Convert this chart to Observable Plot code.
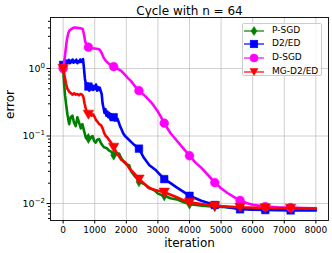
<!DOCTYPE html>
<html>
<head>
<meta charset="utf-8">
<script src="https://cdn.jsdelivr.net/npm/d3@7"></script>
<script src="https://cdn.jsdelivr.net/npm/@observablehq/plot@0.6"></script>
<style>
  html, body { margin: 0; padding: 0; background: #fff; }
  #wrap { position: relative; width: 332px; height: 253px; font-family: "DejaVu Sans", sans-serif; }
  #legend { position: absolute; left: 242px; top: 23px; width: 80px; height: 53px; box-sizing: border-box;
    background: rgba(255,255,255,0.8); border: 1px solid #cccccc; border-radius: 2px; }
  #legend .row { position: absolute; left: 0; height: 12px; width: 80px; }
  #legend svg { position: absolute; left: 1px; top: 0; }
  #legend span { position: absolute; left: 29px; top: -1px; font-size: 9px; line-height: 13px; color: #000; white-space: nowrap; }
</style>
</head>
<body>
<div id="wrap"></div>
<script>
// ---- data ----
const seriesNames = ["P-SGD", "D2/ED", "D-SGD", "MG-D2/ED"];
const seriesColors = ["#008000", "#0000ff", "#ff00ff", "#ff0000"];

const iterPSGD = [0,30,60,100,135,190,240,295,340,400,450,500,560,610,660,720,770,800,820,880,930,980,1030,1080,1140,1200,1250,1300,1380,1450,1530,1600,1660,1700,1770,1850,1930,2000,2090,2150,2250,2320,2400,2500,2600,2700,2800,2900,3000,3100,3200,3400,3600,3800,4000,4400,4800,5200,5600,6400,7200,8000];
const errPSGD = [1.0,0.6,0.4,0.28,0.21,0.15,0.19,0.2,0.16,0.14,0.19,0.16,0.13,0.15,0.12,0.094,0.1,0.092,0.089,0.095,0.1,0.085,0.08,0.088,0.09,0.078,0.072,0.068,0.066,0.061,0.058,0.052,0.055,0.053,0.055,0.046,0.041,0.038,0.037,0.03,0.026,0.024,0.021,0.02,0.019,0.017,0.0165,0.0155,0.014,0.0135,0.013,0.012,0.0115,0.0105,0.0098,0.0093,0.009,0.0088,0.0086,0.0085,0.0085,0.0084];

const iterD2ED = [0,30,60,90,120,150,180,210,240,270,300,330,360,390,420,450,480,510,540,570,600,630,660,690,720,750,780,800,830,860,890,920,950,980,1010,1040,1070,1100,1130,1160,1190,1220,1250,1280,1310,1340,1370,1400,1430,1460,1490,1520,1550,1580,1600,1630,1660,1690,1720,1760,1800,1850,1900,1960,2050,2150,2250,2400,2550,2730,2940,3200,3400,3580,3800,4000,4370,4800,5200,5600,6000,6400,7200,8000];
const errD2ED = [1.13,1.25,1.35,1.2,1.3,1.22,1.34,1.2,1.3,1.24,1.36,1.22,1.3,1.25,1.35,1.2,1.28,1.24,1.36,1.25,1.32,1.38,1.0,0.7,0.6,0.52,0.6,0.54,0.47,0.58,0.5,0.56,0.48,0.55,0.5,0.58,0.47,0.53,0.48,0.52,0.46,0.42,0.3,0.26,0.22,0.25,0.2,0.23,0.19,0.22,0.18,0.21,0.19,0.2,0.19,0.17,0.2,0.17,0.18,0.16,0.14,0.125,0.11,0.1,0.091,0.082,0.074,0.065,0.048,0.037,0.031,0.023,0.02,0.0175,0.015,0.013,0.011,0.0095,0.0088,0.0082,0.0081,0.008,0.0079,0.0079];

const iterDSGD = [0,40,80,120,160,200,260,350,450,550,620,660,700,750,800,900,1000,1100,1150,1220,1280,1350,1450,1550,1600,1700,1830,1930,2050,2150,2310,2400,2600,2800,3000,3100,3200,3400,3600,3800,4000,4200,4370,4600,4800,5000,5200,5400,5600,5800,6000,6400,6800,7200,7600,8000];
const errDSGD = [1.0,1.3,1.9,2.7,3.3,3.65,3.85,4.05,4.0,3.95,3.85,3.2,2.5,2.2,2.07,2.0,1.98,1.95,1.92,1.7,1.45,1.3,1.17,1.1,1.07,1.0,0.93,0.83,0.72,0.65,0.52,0.47,0.39,0.31,0.23,0.19,0.155,0.11,0.085,0.066,0.051,0.04,0.034,0.026,0.0204,0.0168,0.0143,0.0125,0.0111,0.0102,0.0096,0.009,0.0088,0.0087,0.0086,0.0085];

const iterMG = [0,40,90,135,200,250,300,350,400,450,500,550,600,640,680,720,770,800,850,900,950,1000,1050,1100,1140,1200,1250,1300,1350,1400,1450,1500,1550,1600,1700,1830,1980,2100,2250,2400,2600,2780,3000,3200,3400,3580,3800,4000,4370,4800,5200,5600,6400,7200,8000];
const errMG = [1.0,0.8,0.6,0.5,0.45,0.43,0.41,0.43,0.41,0.42,0.4,0.42,0.41,0.38,0.3,0.25,0.22,0.21,0.22,0.2,0.21,0.19,0.17,0.16,0.15,0.145,0.13,0.11,0.1,0.095,0.088,0.082,0.075,0.068,0.056,0.045,0.04,0.033,0.028,0.023,0.019,0.0165,0.0155,0.0147,0.0135,0.0125,0.0112,0.0104,0.0098,0.0092,0.009,0.0088,0.0086,0.0085,0.0084];

const xTicks = [0,1000,2000,3000,4000,5000,6000,7000,8000];
const yTicks = [0.01, 0.1, 1];
const markEvery = 800;
const titleText = "Cycle with n = 64";
const xLabel = "iteration";
const yLabel = "error";

// ---- build ----
const iters = [iterPSGD, iterD2ED, iterDSGD, iterMG];
const errs = [errPSGD, errD2ED, errDSGD, errMG];
const tables = iters.map((xs, k) => {
  const n = Math.min(xs.length, errs[k].length);
  return d3.range(n).map(i => ({x: xs[i], y: errs[k][i]}));
});

const triDown = {draw(ctx, size) {
  const s = Math.sqrt(size * 4 / Math.sqrt(3));
  const h = s * Math.sqrt(3) / 2;
  ctx.moveTo(-s / 2, -h / 2.2);
  ctx.lineTo(s / 2, -h / 2.2);
  ctx.lineTo(0, h - h / 2.2);
  ctx.closePath();
}};
const symbols = ["diamond", "square", "circle", triDown];
const radii = [3.1, 4.3, 4.4, 3.9];

const minorTicks = [];
for (const e of [-3, -2, -1, 0]) for (let m = 2; m <= 9; m++) {
  const v = m * Math.pow(10, e);
  if (v > 0.0056 && v < 5.7) minorTicks.push(v);
}
const fmtPow = v => "10^" + Math.round(Math.log10(v));

const marks = [
  Plot.gridX(xTicks, {stroke: "#b0b0b0", strokeOpacity: 0.6, strokeWidth: 1}),
  Plot.gridY(yTicks, {stroke: "#b0b0b0", strokeOpacity: 0.6, strokeWidth: 1}),
];
tables.forEach((t, k) => {
  marks.push(Plot.line(t, {x: "x", y: "y", stroke: seriesColors[k], strokeWidth: 2.6, strokeLinejoin: "round"}));
  marks.push(Plot.dot(t.filter(d => d.x % markEvery === 0 && d.x < 8000), {
    x: "x", y: "y", symbol: () => symbols[k], r: radii[k], fill: seriesColors[k], stroke: seriesColors[k], strokeWidth: 0.5
  }));
});
marks.push(
  Plot.frame({stroke: "#000", strokeWidth: 0.9}),
  Plot.axisX({ticks: xTicks, tickSize: 3.5, tickPadding: 2.5, fontSize: 9, label: null, tickFormat: d => String(d)}),
  Plot.axisY({ticks: yTicks, tickSize: 3.5, tickPadding: 2, fontSize: 9.5, label: null, tickFormat: fmtPow}),
  Plot.axisY({ticks: minorTicks, tickSize: 2, tickFormat: () => "", label: null}),
  Plot.text([titleText], {frameAnchor: "top", lineAnchor: "bottom", dy: -3, fontSize: 12, fill: "#000"}),
  Plot.text([xLabel], {frameAnchor: "bottom", lineAnchor: "bottom", dy: 26, fontSize: 12, fill: "#000"}),
  Plot.text([yLabel], {frameAnchor: "left", rotate: -90, dx: -40, fontSize: 12, fill: "#000"})
);

const chart = Plot.plot({
  width: 332,
  height: 253,
  marginLeft: 50,
  marginRight: 4,
  marginTop: 17,
  marginBottom: 33,
  style: {fontFamily: "DejaVu Sans, sans-serif", background: "#fff", color: "#000"},
  x: {domain: [-400, 8400]},
  y: {type: "log", domain: [0.0056, 5.7]},
  symbol: {type: "identity"},
  marks
});
// exponent formatting for log tick labels
chart.querySelectorAll("text").forEach(t => {
  const s = t.textContent;
  const m = /^10\^(-?\d+)$/.exec(s);
  if (!m) return;
  const exp = m[1].replace("-", "\u2212");
  while (t.firstChild) t.removeChild(t.firstChild);
  const ns = "http://www.w3.org/2000/svg";
  const a = document.createElementNS(ns, "tspan");
  a.textContent = "10";
  const b = document.createElementNS(ns, "tspan");
  b.textContent = exp;
  b.setAttribute("font-size", "7");
  b.setAttribute("dy", "-4");
  t.appendChild(a);
  t.appendChild(b);
});
const wrap = document.getElementById("wrap");
wrap.appendChild(chart);

// legend
const legend = document.createElement("div");
legend.id = "legend";
const symPaths = [
  '<path d="M10,1.5 L13,6 L10,10.5 L7,6 Z"/>',
  '<rect x="6.2" y="2.2" width="7.6" height="7.6"/>',
  '<circle cx="10" cy="6" r="4"/>',
  '<path d="M6,2.5 L14,2.5 L10,9.5 Z"/>'
];
const rowTops = [1, 14.3, 27.7, 41.7];
seriesNames.forEach((name, k) => {
  const row = document.createElement("div");
  row.className = "row";
  row.style.top = rowTops[k] + "px";
  row.innerHTML = `<svg width="24" height="12" viewBox="0 0 24 12">
      <line x1="0" y1="6" x2="20" y2="6" stroke="${seriesColors[k]}" stroke-width="2" stroke-opacity="0.6"/>
      <g fill="${seriesColors[k]}" stroke="${seriesColors[k]}" stroke-width="0.5">${symPaths[k]}</g>
    </svg><span>${name}</span>`;
  legend.appendChild(row);
});
wrap.appendChild(legend);
</script>
</body>
</html>
